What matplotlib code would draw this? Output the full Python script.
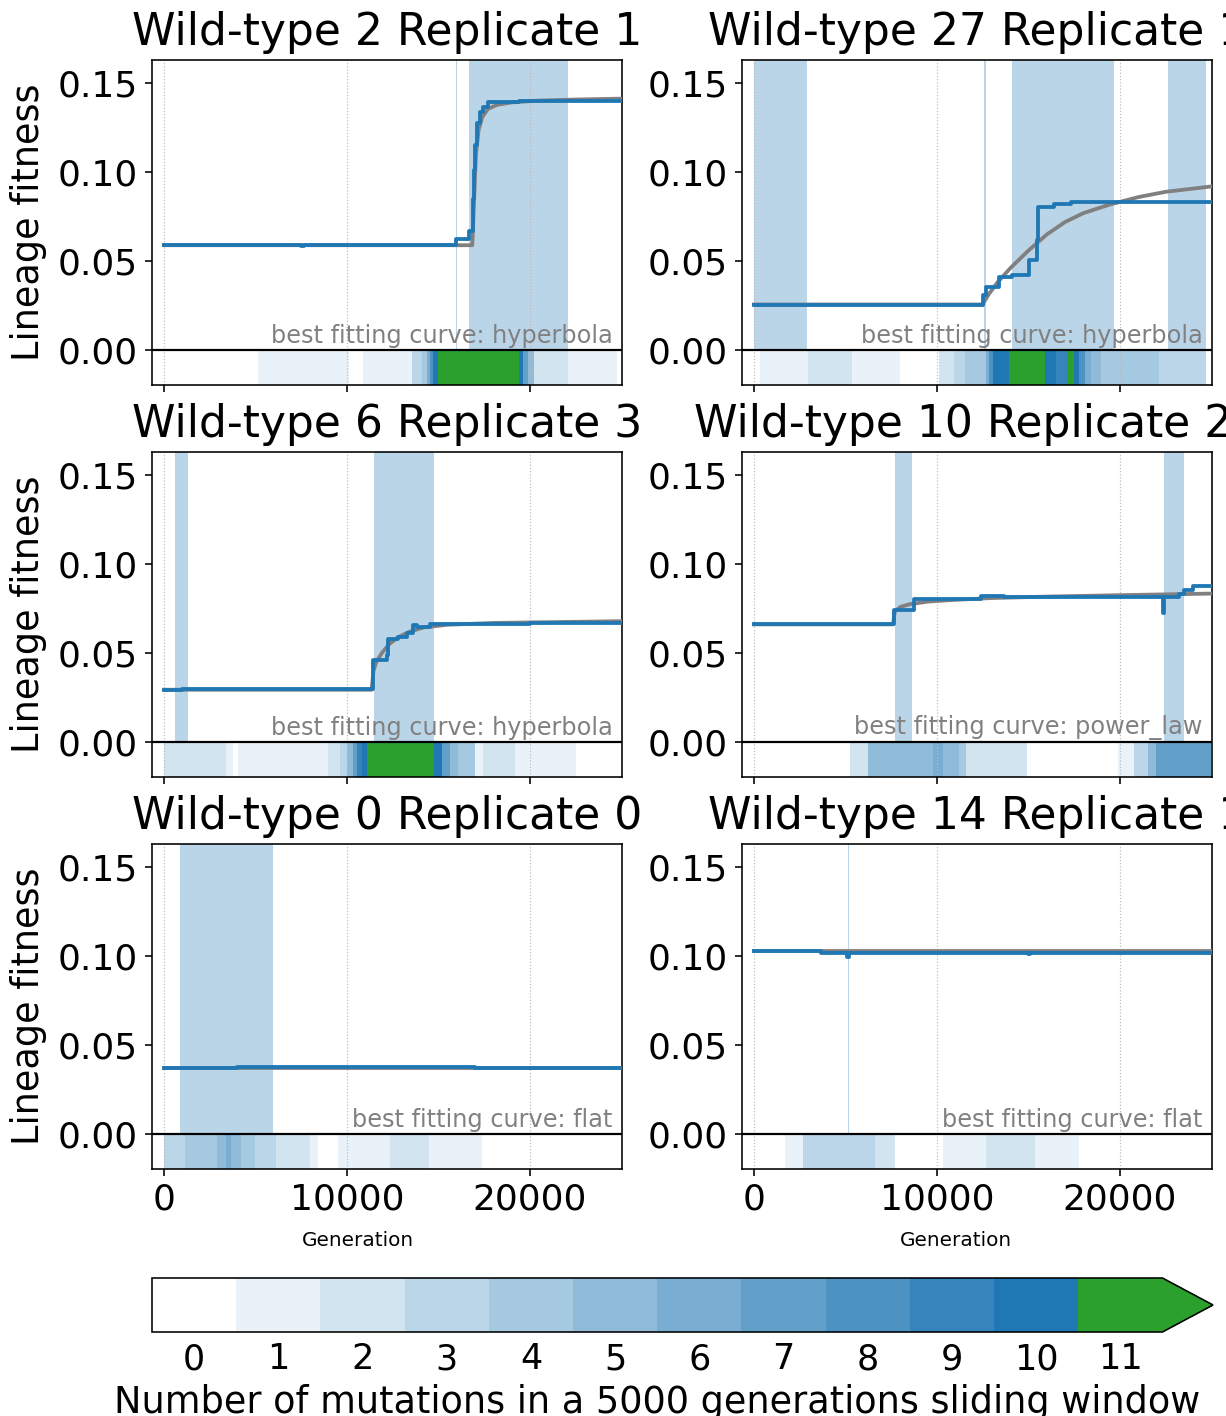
import numpy as np
import matplotlib
matplotlib.use("Agg")
import matplotlib.pyplot as plt
from matplotlib.cm import ScalarMappable
from matplotlib.colors import BoundaryNorm, LinearSegmentedColormap, ListedColormap
from matplotlib.ticker import FormatStrFormatter

# ---- Wild-type 2 Replicate 1 -------------------------------------------
A_GEN = [0, 7500, 7650, 15950, 16650, 16900, 16950, 17000, 17100, 17250, 17450, 17700, 19400, 25000]
A_FIT = [0.059, 0.0585, 0.059, 0.0627, 0.067, 0.085, 0.101, 0.115, 0.1274, 0.134, 0.1367, 0.1395, 0.1398, 0.1398]
A_CURVE_GEN = [0, 16850, 16950, 17050, 17200, 17400, 17700, 18200, 19000, 20500, 22500, 25000]
A_CURVE_FIT = [0.059, 0.059, 0.085, 0.110, 0.124, 0.131, 0.1355, 0.1378, 0.1392, 0.1402, 0.1408, 0.1413]
A_SPANS = [(15950, 16030), (16690, 22100)]
A_STRIP_EDGES = [0, 5150, 10130, 10860, 13530, 14080, 14350, 14550, 14720, 14990,
                 19420, 19640, 19910, 20220, 22100, 24770, 25000]
A_STRIP_COUNTS = [0, 1, 0, 1, 3, 4, 6, 8, 10, 11, 10, 7, 5, 2, 1, 0]

# ---- Wild-type 27 ------------------------------------------------------
B_GEN = [0, 12530, 12680, 13400, 14100, 15010, 15450, 15540, 16410, 17320, 25000]
B_FIT = [0.0257, 0.0309, 0.0356, 0.0412, 0.0421, 0.0506, 0.0618, 0.0805, 0.082, 0.083, 0.083]
B_CURVE_GEN = [0, 12500, 12800, 13300, 14000, 15000, 16000, 17000, 18000, 19500, 21000, 22500, 25000]
B_CURVE_FIT = [0.0257, 0.0257, 0.031, 0.038, 0.046, 0.056, 0.065, 0.072, 0.077, 0.082, 0.086, 0.089, 0.092]
B_SPANS = [(0, 2900), (12585, 12695), (14100, 19650), (22640, 24700)]
B_STRIP_EDGES = [0, 345, 2970, 5360, 7990, 10130, 10910, 11550, 12680, 12860, 13040, 13920,
                 15920, 16500, 17180, 17500, 17780, 18100, 18420, 18960, 22150, 24700, 25000]
B_STRIP_COUNTS = [0, 1, 2, 1, 0, 2, 3, 4, 6, 8, 10, 11, 10, 9, 11, 10, 8, 6, 5, 4, 3, 0]

# ---- Wild-type 6 Replicate 3 -------------------------------------------
C_GEN = [0, 1000, 11400, 12170, 12260, 12800, 13260, 13620, 13810, 14540, 20000, 25000]
C_FIT = [0.0295, 0.030, 0.0462, 0.049, 0.058, 0.0593, 0.0615, 0.0658, 0.0649, 0.0664, 0.0668, 0.0671]
C_CURVE_GEN = [0, 11350, 11450, 11600, 11900, 12300, 12800, 13400, 14200, 15500, 18000, 25000]
C_CURVE_FIT = [0.0295, 0.0295, 0.040, 0.045, 0.050, 0.055, 0.059, 0.062, 0.0645, 0.066, 0.067, 0.068]
C_SPANS = [(600, 1330), (11490, 14750)]
C_STRIP_EDGES = [0, 3390, 3790, 4060, 8980, 9620, 9980, 10340, 10570, 10800, 11080,
                 14750, 15170, 15630, 16080, 17000, 17450, 19180, 22510, 25000]
C_STRIP_COUNTS = [2, 1, 0, 1, 2, 3, 5, 7, 9, 10, 11, 10, 7, 5, 4, 1, 2, 1, 0]

# ---- Wild-type 10 Replicate 2x -----------------------------------------
D_GEN = [0, 7670, 8730, 12400, 13680, 22330, 22420, 23240, 23520, 23970, 25000]
D_FIT = [0.0662, 0.0742, 0.0802, 0.082, 0.0815, 0.0727, 0.0815, 0.0835, 0.0854, 0.0878, 0.0878]
D_CURVE_GEN = [0, 7600, 7700, 8000, 8500, 9500, 11000, 13000, 16000, 20000, 25000]
D_CURVE_FIT = [0.0662, 0.0662, 0.0735, 0.0760, 0.0775, 0.0790, 0.0800, 0.0810, 0.0818, 0.0826, 0.0835]
D_SPANS = [(7700, 8640), (22420, 23520)]
D_STRIP_EDGES = [0, 5250, 6210, 9760, 10310, 11220, 11590, 14920, 19870, 20780, 21510, 21970, 24970, 25000]
D_STRIP_COUNTS = [0, 2, 5, 6, 5, 4, 2, 0, 1, 3, 5, 7, 0]

# ---- Wild-type 0 Replicate 0 -------------------------------------------
E_GEN = [0, 1500, 4000, 7000, 10000, 17000, 20000, 25000]
E_FIT = [0.0374, 0.0372, 0.0375, 0.0376, 0.0375, 0.0374, 0.0373, 0.0372]
E_CURVE_GEN = [0, 25000]
E_CURVE_FIT = [0.0374, 0.0374]
E_SPANS = [(870, 5970)]
E_STRIP_EDGES = [0, 1150, 2910, 3390, 3640, 4240, 4970, 6120, 7980, 8430, 9490, 12350, 14500, 17390, 25000]
E_STRIP_COUNTS = [3, 4, 5, 6, 5, 4, 3, 2, 1, 0, 1, 2, 1, 0]

# ---- Wild-type 14 ------------------------------------------------------
F_GEN = [0, 3660, 5100, 5200, 14950, 15100, 25000]
F_FIT = [0.1031, 0.1018, 0.0998, 0.1018, 0.1010, 0.1017, 0.1016]
F_CURVE_GEN = [0, 25000]
F_CURVE_FIT = [0.1028, 0.1028]
F_SPANS = [(5120, 5180)]
F_STRIP_EDGES = [0, 1690, 2660, 6630, 7720, 10310, 12680, 15360, 17780, 25000]
F_STRIP_COUNTS = [0, 1, 3, 2, 0, 1, 2, 1, 0]

# the right-hand titles run past the figure edge, as in the source figure
TITLES = ["Wild-type 2 Replicate 1", "Wild-type 27 Replicate 1",
          "Wild-type 6 Replicate 3", "Wild-type 10 Replicate 20",
          "Wild-type 0 Replicate 0", "Wild-type 14 Replicate 1"]
CURVE_NAMES = ["hyperbola", "hyperbola", "hyperbola", "power_law", "flat", "flat"]
CBAR_TICKS = list(range(12))

PANELS = [
    (A_GEN, A_FIT, A_CURVE_GEN, A_CURVE_FIT, A_SPANS, A_STRIP_EDGES, A_STRIP_COUNTS),
    (B_GEN, B_FIT, B_CURVE_GEN, B_CURVE_FIT, B_SPANS, B_STRIP_EDGES, B_STRIP_COUNTS),
    (C_GEN, C_FIT, C_CURVE_GEN, C_CURVE_FIT, C_SPANS, C_STRIP_EDGES, C_STRIP_COUNTS),
    (D_GEN, D_FIT, D_CURVE_GEN, D_CURVE_FIT, D_SPANS, D_STRIP_EDGES, D_STRIP_COUNTS),
    (E_GEN, E_FIT, E_CURVE_GEN, E_CURVE_FIT, E_SPANS, E_STRIP_EDGES, E_STRIP_COUNTS),
    (F_GEN, F_FIT, F_CURVE_GEN, F_CURVE_FIT, F_SPANS, F_STRIP_EDGES, F_STRIP_COUNTS),
]

BLUE = "#1f77b4"
GREEN = "#2ca02c"
YLIM = (-0.0195, 0.163)
XLIM = (-650, 25030)

# white -> blue for 0..10 mutations, green for 11 and above
blues = LinearSegmentedColormap.from_list("wb", ["white", BLUE])(np.linspace(0, 1, 11))
cmap = ListedColormap(list(blues) + [GREEN])
cmap.set_over(GREEN)
norm = BoundaryNorm(np.arange(-0.5, 12.5, 1), cmap.N)

W, H, DPI = 1226, 1416, 144
fig = plt.figure(figsize=(W / DPI, H / DPI), dpi=DPI)
fig.patch.set_facecolor("white")

col_left = [152 / W, 742 / W]
row_bottom = [1 - 385 / H, 1 - 777 / H, 1 - 1169 / H]
ax_w, ax_h = 470 / W, 325 / H
xlabel_x = [0.438, 0.455]

for i, (gen, fit, cgen, cfit, spans, edges, counts) in enumerate(PANELS):
    row, col = divmod(i, 2)
    ax = fig.add_axes([col_left[col], row_bottom[row], ax_w, ax_h])

    for s0, s1 in spans:
        ax.axvspan(s0, s1, color=BLUE, alpha=0.3, lw=0, zorder=0.5)

    # mutation-count strip below zero
    ax.pcolormesh(edges, [YLIM[0], 0], np.array([counts]), cmap=cmap, norm=norm,
                  shading="flat", zorder=1)
    ax.axhline(0, color="black", lw=1.1, zorder=4)

    ax.plot(cgen, cfit, color="gray", lw=1.9, zorder=3)
    ax.plot(gen, fit, drawstyle="steps-post", color=BLUE, lw=1.9, zorder=3.5)

    ax.text(0.98, 0.113, f"best fitting curve: {CURVE_NAMES[i]}", transform=ax.transAxes,
            ha="right", va="bottom", fontsize=12, color="gray", zorder=5)

    ax.set_xlim(*XLIM)
    ax.set_ylim(*YLIM)
    ax.set_xticks([0, 10000, 20000])
    ax.set_yticks([0.0, 0.05, 0.10, 0.15])
    ax.yaxis.set_major_formatter(FormatStrFormatter("%.2f"))
    ax.grid(axis="x", ls=":", lw=0.6, color="#bbbbbb")
    ax.tick_params(labelsize=18)
    ax.set_title(TITLES[i], fontsize=22, pad=7.5)

    if row < 2:
        ax.tick_params(labelbottom=False)
    else:
        ax.set_xlabel("Generation", fontsize=10)
        ax.xaxis.set_label_coords(xlabel_x[col], -0.19)
    if col == 0:
        ax.set_ylabel("Lineage fitness", fontsize=18.3)
        ax.yaxis.set_label_coords(-0.224, 0.5)

cax = fig.add_axes([152 / W, 1 - 1332 / H, 1061 / W, 54 / H])
cb = fig.colorbar(ScalarMappable(norm=norm, cmap=cmap), cax=cax, orientation="horizontal",
                  extend="max", ticks=CBAR_TICKS)
cb.ax.minorticks_off()
cb.ax.tick_params(which="both", labelsize=17.5, length=0, pad=5)
cb.set_label("Number of mutations in a 5000 generations sliding window", fontsize=18.3)

fig.savefig("out.png", dpi=DPI, facecolor="white")
